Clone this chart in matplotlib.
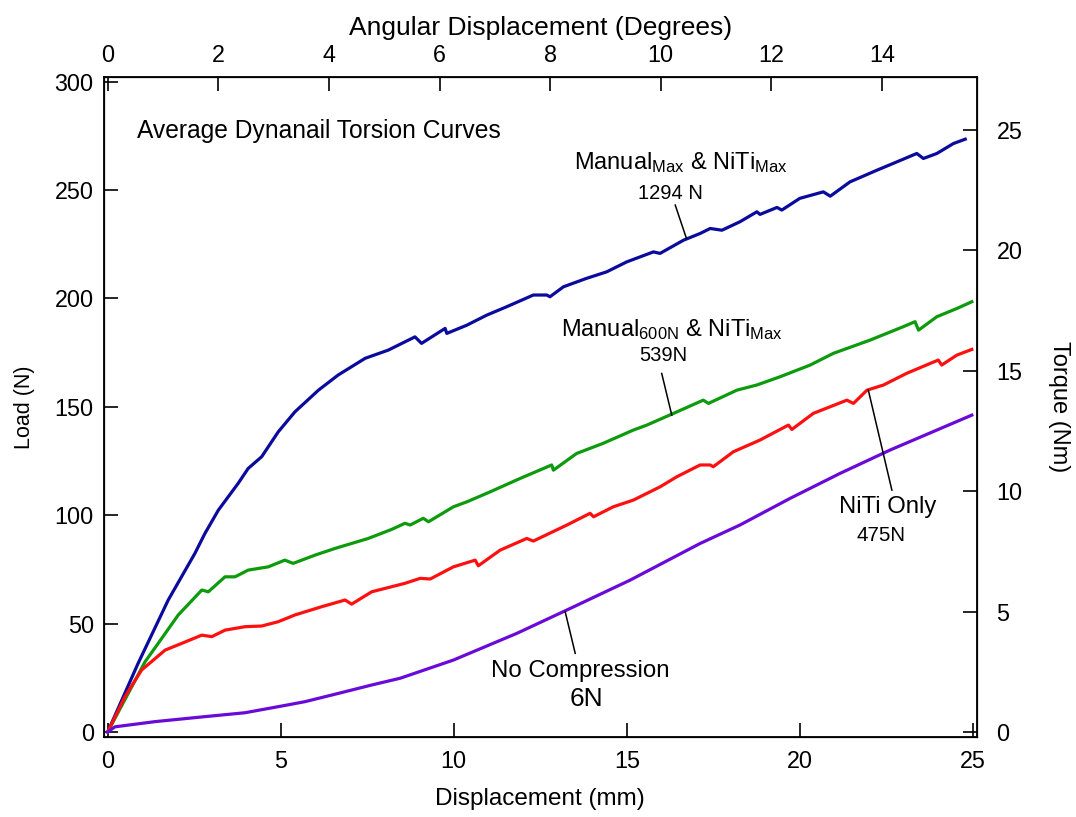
import numpy as np
import matplotlib
matplotlib.use("Agg")
import matplotlib.pyplot as plt

plt.rcParams['font.family'] = ['Liberation Sans', 'DejaVu Sans']
plt.rcParams['mathtext.default'] = 'regular'

# Manual_Max & NiTi_Max (1294 N)
disp_max = [0, 0.88, 1.75, 2.52, 2.81, 3.20, 3.77, 4.06, 4.45, 4.93, 5.41, 6.09, 6.66,
            7.44, 8.11, 8.59, 8.88, 9.07, 9.75, 9.80, 10.38, 10.95, 11.53, 12.30, 12.69,
            12.78, 13.17, 13.84, 14.42, 15.00, 15.77, 15.96, 16.64, 17.12, 17.41, 17.75,
            18.27, 18.76, 18.85, 19.34, 19.48, 20.00, 20.68, 20.88, 21.45, 22.23, 22.80,
            23.38, 23.57, 23.96, 24.44, 24.78]
load_max = [0, 31.7, 60.9, 82.4, 91.6, 102.4, 114.7, 121.6, 127.0, 138.5, 147.7, 157.7, 164.7,
            172.4, 176.2, 180.0, 182.3, 179.3, 186.2, 183.9, 187.7, 192.3, 196.2, 201.6, 201.6,
            200.8, 205.4, 209.3, 212.3, 216.9, 221.5, 220.8, 226.9, 230.0, 232.3, 231.5,
            235.4, 240.0, 238.8, 242.0, 240.8, 246.2, 249.2, 247.2, 253.8, 259.2, 263.0,
            266.9, 264.6, 266.9, 271.5, 273.5]

# Manual_600N & NiTi_Max (539 N)
disp_600 = [0, 1.08, 1.46, 2.04, 2.72, 2.91, 3.39, 3.68, 4.06, 4.64, 5.12, 5.36, 5.99, 6.57,
            7.53, 8.21, 8.59, 8.74, 9.12, 9.27, 9.99, 10.38, 11.05, 11.92, 12.83, 12.88,
            13.55, 14.32, 15.19, 15.58, 16.35, 17.21, 17.36, 18.18, 18.76, 19.43, 20.30,
            20.97, 22.03, 22.99, 23.33, 23.43, 23.96, 24.54, 24.97]
load_600 = [0, 32.4, 40.9, 54.0, 65.5, 64.7, 71.6, 71.6, 74.7, 76.2, 79.3, 77.8, 81.6, 84.7,
            89.3, 93.5, 96.3, 95.5, 98.6, 97.0, 103.9, 106.2, 110.8, 117.0, 123.2, 120.8,
            128.5, 133.2, 139.3, 141.6, 147.0, 153.1, 151.6, 157.7, 160.1, 163.9, 169.3,
            174.7, 180.8, 187.0, 189.3, 185.4, 191.6, 195.4, 198.5]

# NiTi only (475 N)
disp_niti = [0, 0.50, 0.98, 1.66, 2.14, 2.72, 3.01, 3.39, 3.97, 4.45, 4.93, 5.41, 6.18, 6.86,
             7.05, 7.63, 8.59, 9.03, 9.32, 9.99, 10.62, 10.71, 11.34, 12.11, 12.30, 13.27,
             13.94, 14.04, 14.61, 15.19, 15.96, 16.45, 17.12, 17.41, 17.50, 18.08, 18.85,
             19.67, 19.77, 20.39, 21.36, 21.55, 21.94, 22.42, 23.09, 24.00, 24.10, 24.54, 24.97]
load_niti = [0, 16.3, 28.6, 37.8, 40.9, 44.7, 44.0, 47.0, 48.6, 48.9, 50.9, 54.0, 57.8, 60.9,
             59.0, 64.7, 68.6, 70.9, 70.6, 76.2, 79.3, 76.7, 83.9, 89.3, 88.1, 95.5,
             100.9, 99.3, 103.9, 107.0, 113.1, 117.8, 123.2, 123.2, 122.4, 129.3, 134.7,
             141.6, 139.6, 147.0, 153.1, 151.6, 157.7, 160.1, 165.5, 171.6, 169.3, 173.9, 176.5]

# No compression (6 N)
disp_none = [0, 0.21, 1.37, 2.81, 3.97, 5.03, 5.70, 6.66, 7.63, 8.45, 9.99, 11.82, 13.27,
             15.10, 17.12, 18.27, 19.72, 21.16, 22.61, 24.97]
load_none = [0, 2.4, 4.8, 7.1, 8.9, 12.0, 14.0, 17.8, 21.7, 24.8, 33.2, 45.5, 56.3,
             70.1, 87.0, 95.5, 107.8, 119.3, 130.1, 146.2]

deg_per_mm = 0.6257
nm_per_n = 0.09

# leader lines (x0, y0, x1, y1) in mm / N
leaders = [(16.40, 243.1, 16.72, 227.9),
           (16.01, 165.4, 16.30, 146.2),
           (21.98, 157.7, 22.66, 111.6),
           (13.22, 55.5, 13.51, 36.3)]

fig = plt.figure(figsize=(10.76, 8.17), dpi=100)
ax = fig.add_axes([0.0962, 0.0979, 0.8118, 0.8079])

lw = 2.3
ax.plot(disp_max, load_max, color='#0a0a9c', lw=lw, solid_joinstyle='round')
ax.plot(disp_600, load_600, color='#0d9a0d', lw=lw, solid_joinstyle='round')
ax.plot(disp_niti, load_niti, color='#ff1010', lw=lw, solid_joinstyle='round')
ax.plot(disp_none, load_none, color='#6a0ad8', lw=lw, solid_joinstyle='round')

for x0, y0, x1, y1 in leaders:
    ax.plot([x0, x1], [y0, y1], color='black', lw=1.1)

xlim = (-0.12, 25.12)
ylim = (-2.3, 302.2)
ax.set_xlim(xlim)
ax.set_ylim(ylim)
ax.set_xticks(np.arange(0, 26, 5))
ax.set_yticks(np.arange(0, 301, 50))
ax.tick_params(direction='in', length=10, width=1.2, labelsize=16.8)
ax.tick_params(axis='y', pad=7)
ax.tick_params(axis='x', pad=9)
ax.set_xlabel('Displacement (mm)', fontsize=17.5, labelpad=11)
ax.set_ylabel('Load (N)', fontsize=15.5, labelpad=14)
for s in ax.spines.values():
    s.set_linewidth(1.3)

top = ax.twiny()
top.set_xlim(xlim[0] * deg_per_mm, xlim[1] * deg_per_mm)
top.set_xticks(np.arange(0, 15, 2))
top.tick_params(direction='in', length=10, width=1.2, labelsize=16.8, pad=7)
top.set_xlabel('Angular Displacement (Degrees)', fontsize=19, labelpad=7)

right = ax.twinx()
right.set_ylim(ylim[0] * nm_per_n, ylim[1] * nm_per_n)
right.set_yticks(np.arange(0, 26, 5))
right.tick_params(direction='in', length=10, width=1.2, labelsize=16.8, pad=14)
right.set_ylabel('Torque (Nm)', fontsize=17, rotation=270, labelpad=34)

ax.text(0.85, 277.2, 'Average Dynanail Torsion Curves', fontsize=17.7, ha='left', va='center')
ax.text(16.57, 262.5, r'Manual$_{Max}$ & NiTi$_{Max}$', fontsize=17, ha='center', va='center')
ax.text(16.25, 248.6, '1294 N', fontsize=14.5, ha='center', va='center')
ax.text(16.32, 185.5, r'Manual$_{600N}$ & NiTi$_{Max}$', fontsize=17, ha='center', va='center')
ax.text(16.05, 173.9, '539N', fontsize=14.5, ha='center', va='center')
ax.text(22.55, 103.8, 'NiTi Only', fontsize=17.2, ha='center', va='center')
ax.text(22.35, 90.5, '475N', fontsize=14.8, ha='center', va='center')
ax.text(13.65, 28.0, 'No Compression', fontsize=17.3, ha='center', va='center')
ax.text(13.84, 15.4, '6N', fontsize=19, ha='center', va='center')

fig.savefig('out.png', dpi=100)
